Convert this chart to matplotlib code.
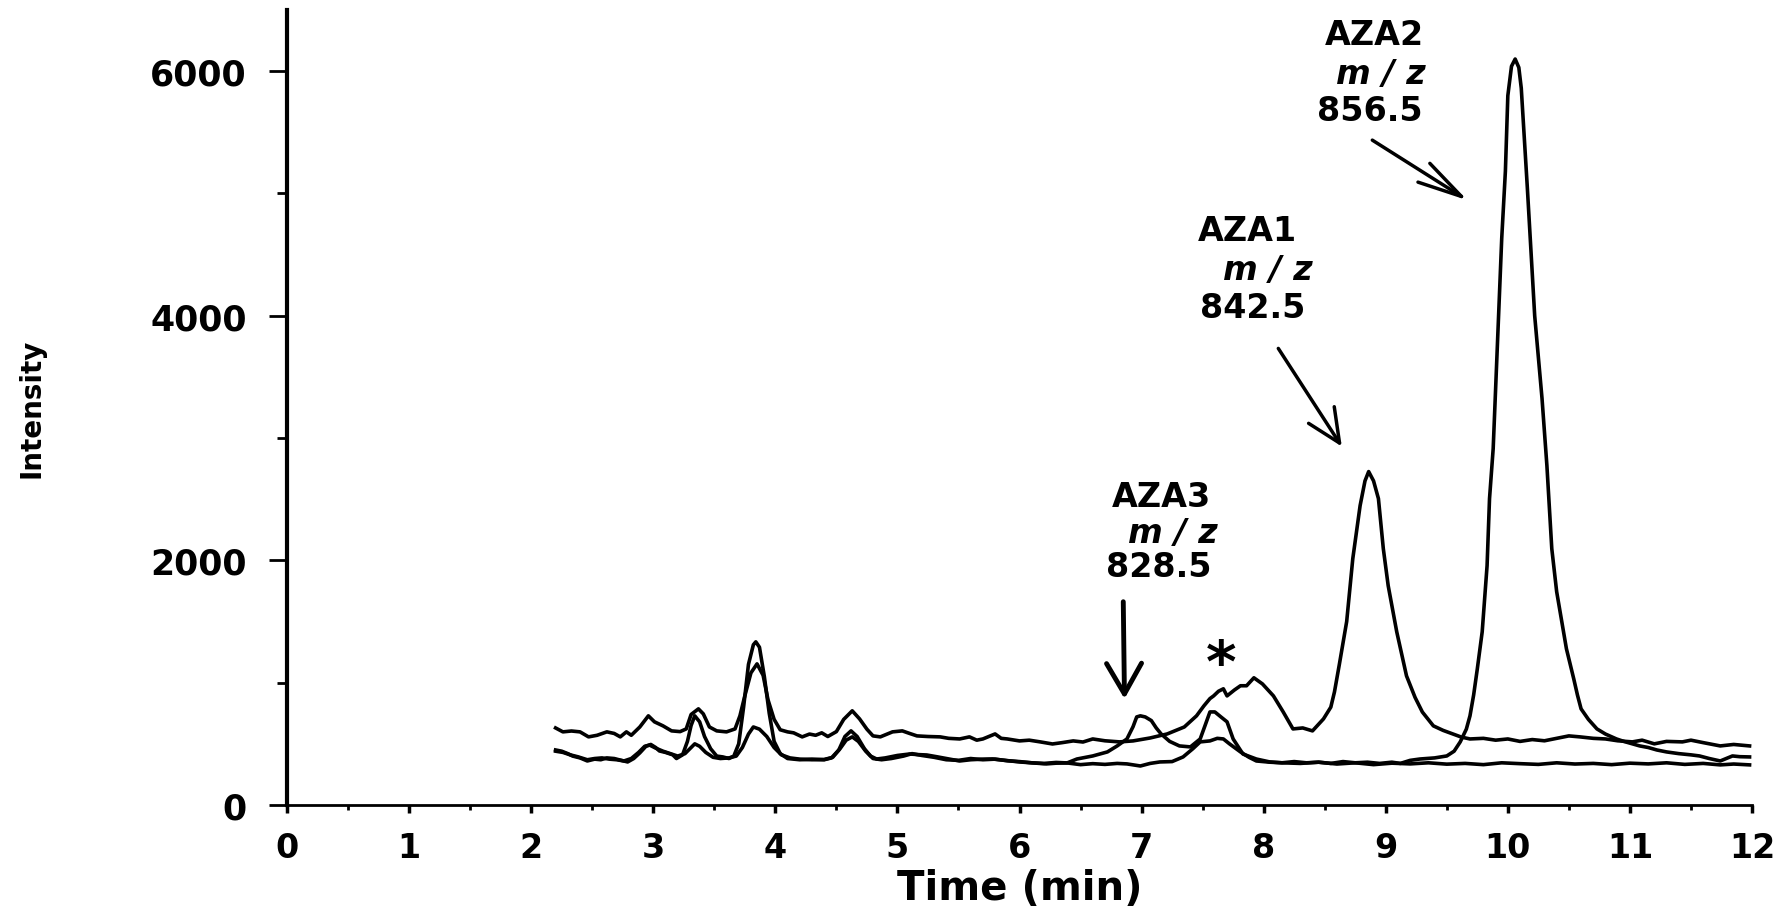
import matplotlib
matplotlib.use("Agg")
import matplotlib.pyplot as plt
from matplotlib.ticker import MultipleLocator

plt.rcParams['font.family'] = ['DejaVu Sans']
plt.rcParams['font.weight'] = 'bold'

# AZA1 trace, m/z 842.5 (upper baseline)
t_842 = [2.20, 2.26, 2.33, 2.40, 2.47, 2.54, 2.62, 2.68, 2.73, 2.78, 2.82, 2.89, 2.96, 3.01,
         3.08, 3.15, 3.22, 3.27, 3.31, 3.37, 3.41, 3.46, 3.52, 3.60, 3.67, 3.71, 3.75, 3.80,
         3.85, 3.90, 3.94, 3.99, 4.04, 4.10, 4.15, 4.22, 4.28, 4.33, 4.38, 4.43, 4.50, 4.56,
         4.63, 4.69, 4.75, 4.80, 4.86, 4.96, 5.04, 5.10, 5.16, 5.25, 5.35, 5.42, 5.51, 5.59,
         5.65, 5.70, 5.80, 5.85, 5.90, 6.00, 6.08, 6.17, 6.27, 6.35, 6.44, 6.52, 6.60, 6.70,
         6.82, 6.93, 7.07, 7.21, 7.35, 7.45, 7.51, 7.56, 7.59, 7.63, 7.67, 7.70, 7.76, 7.81,
         7.86, 7.92, 7.99, 8.08, 8.16, 8.24, 8.32, 8.40, 8.49, 8.55, 8.58, 8.62, 8.68, 8.73,
         8.79, 8.83, 8.86, 8.90, 8.94, 8.98, 9.02, 9.09, 9.17, 9.24, 9.30, 9.39, 9.47, 9.55,
         9.62, 9.69, 9.80, 9.90, 10.00, 10.10, 10.20, 10.30, 10.40, 10.50, 10.59, 10.70, 10.80,
         10.90, 11.02, 11.10, 11.20, 11.30, 11.43, 11.50, 11.60, 11.74, 11.85, 11.98]
i_842 = [630, 598, 605, 598, 557, 570, 598, 585, 557, 598, 570, 638, 729, 680,
         647, 606, 600, 622, 740, 786, 745, 638, 606, 598, 622, 729, 892, 1080,
         1154, 1060, 860, 700, 615, 598, 590, 557, 580, 570, 590, 560, 600, 700,
         770, 704, 620, 565, 557, 598, 606, 585, 565, 560, 557, 545, 540, 557,
         530, 540, 581, 545, 540, 524, 530, 516, 499, 510, 524, 515, 540, 525,
         516, 524, 548, 581, 638, 729, 810, 870, 892, 930, 950, 892, 940, 975,
         975, 1040, 990, 892, 761, 622, 630, 606, 704, 800, 925, 1150, 1500, 2014,
         2448, 2650, 2726, 2650, 2505, 2096, 1793, 1416, 1056, 880, 760, 647, 610, 581,
         555, 540, 545, 530, 540, 520, 535, 525, 545, 565, 557, 545, 540,
         525, 516, 530, 500, 520, 516, 530, 510, 483, 495, 483]

# AZA2 trace, m/z 856.5
t_856 = [2.20, 2.25, 2.30, 2.34, 2.40, 2.46, 2.52, 2.57, 2.62, 2.68, 2.74, 2.79, 2.84, 2.89,
         2.94, 2.98, 3.02, 3.05, 3.10, 3.16, 3.19, 3.24, 3.28, 3.31, 3.34, 3.38, 3.42, 3.47,
         3.52, 3.57, 3.62, 3.66, 3.70, 3.74, 3.78, 3.82, 3.84, 3.87, 3.91, 3.95, 3.99, 4.04,
         4.10, 4.20, 4.30, 4.40, 4.46, 4.52, 4.57, 4.62, 4.67, 4.73, 4.78, 4.83, 4.90, 5.00,
         5.10, 5.17, 5.24, 5.32, 5.40, 5.51, 5.60, 5.70, 5.78, 5.88, 6.00, 6.10, 6.22, 6.30,
         6.39, 6.50, 6.60, 6.70, 6.80, 6.88, 6.99, 7.07, 7.15, 7.25, 7.34, 7.42, 7.48, 7.56,
         7.62, 7.67, 7.72, 7.81, 7.88, 7.94, 8.05, 8.15, 8.25, 8.35, 8.45, 8.55, 8.65, 8.75,
         8.85, 8.95, 9.05, 9.12, 9.20, 9.28, 9.40, 9.50, 9.56, 9.61, 9.66, 9.69, 9.72, 9.75,
         9.79, 9.83, 9.85, 9.88, 9.90, 9.92, 9.95, 9.98, 10.00, 10.03, 10.06, 10.09, 10.11,
         10.16, 10.22, 10.28, 10.32, 10.36, 10.40, 10.48, 10.54, 10.57, 10.60, 10.66, 10.73,
         10.80, 10.89, 10.95, 11.08, 11.15, 11.22, 11.30, 11.40, 11.50, 11.57, 11.65, 11.74,
         11.80, 11.84, 11.90, 11.98]
i_856 = [450, 440, 420, 400, 385, 360, 375, 370, 385, 380, 365, 352, 380, 426,
         480, 495, 470, 442, 430, 410, 380, 410, 520, 650, 729, 680, 560, 460,
         400, 393, 380, 400, 500, 800, 1150, 1310, 1334, 1290, 1050, 750, 520, 420,
         380, 370, 375, 370, 385, 450, 560, 606, 560, 460, 400, 376, 385, 405,
         417, 412, 409, 395, 380, 360, 370, 375, 376, 365, 352, 345, 336, 342,
         344, 330, 338, 332, 340, 336, 319, 340, 352, 355, 393, 460, 516, 524,
         545, 540, 500, 434, 390, 360, 350, 345, 355, 345, 350, 340, 355, 345,
         350, 340, 350, 340, 365, 376, 385, 401, 440, 516, 620, 729, 900, 1113,
         1416, 1957, 2505, 2914, 3400, 3872, 4633, 5182, 5800, 6040, 6099, 6030, 5861,
         5043, 4000, 3324, 2775, 2096, 1744, 1277, 1031, 900, 786, 700, 622,
         580, 540, 520, 483, 470, 450, 434, 420, 410, 401, 380, 360,
         385, 401, 395, 393]

# AZA3 trace, m/z 828.5
t_828 = [2.20, 2.26, 2.32, 2.38, 2.46, 2.52, 2.58, 2.64, 2.70, 2.76, 2.82, 2.88, 2.93, 2.97,
         3.02, 3.08, 3.14, 3.20, 3.26, 3.31, 3.34, 3.38, 3.43, 3.49, 3.55, 3.62, 3.68, 3.73,
         3.78, 3.82, 3.87, 3.93, 3.99, 4.05, 4.12, 4.20, 4.30, 4.40, 4.47, 4.53, 4.58, 4.63,
         4.68, 4.74, 4.80, 4.87, 4.95, 5.05, 5.12, 5.20, 5.30, 5.40, 5.50, 5.60, 5.70, 5.80,
         5.90, 6.00, 6.10, 6.20, 6.30, 6.39, 6.47, 6.60, 6.72, 6.80, 6.88, 6.93, 6.96, 6.99,
         7.03, 7.08, 7.12, 7.16, 7.23, 7.31, 7.40, 7.48, 7.52, 7.56, 7.60, 7.65, 7.70, 7.75,
         7.83, 7.94, 8.05, 8.15, 8.30, 8.45, 8.60, 8.75, 8.90, 9.05, 9.20, 9.35, 9.50, 9.65,
         9.80, 9.95, 10.10, 10.25, 10.40, 10.55, 10.70, 10.85, 11.00, 11.15, 11.30, 11.45,
         11.60, 11.74, 11.85, 11.98]
i_828 = [440, 430, 410, 395, 370, 380, 385, 375, 370, 360, 380, 430, 480, 490,
         465, 440, 420, 400, 420, 470, 500, 480, 430, 390, 380, 385, 400, 470,
         580, 638, 620, 560, 470, 410, 385, 375, 370, 372, 390, 460, 530, 557,
         520, 440, 380, 370, 380, 400, 420, 405, 390, 370, 365, 380, 370, 375,
         362, 355, 345, 340, 348, 344, 376, 401, 434, 483, 540, 640, 720, 729,
         720, 690, 630, 581, 520, 483, 475, 540, 650, 761, 761, 720, 680, 540,
         417, 376, 352, 345, 340, 350, 335, 345, 330, 342, 336, 345, 334, 340,
         330, 345, 338, 332, 345, 335, 340, 330, 342, 336, 345, 332,
         340, 328, 335, 328]

x_ticks = list(range(0, 13))
y_ticks = [0, 2000, 4000, 6000]

fig = plt.figure(figsize=(17.88, 9.12), dpi=100)
ax = fig.add_axes([287 / 1788, 106 / 912, 1465 / 1788, 795 / 912])

for t, y in [(t_842, i_842), (t_856, i_856), (t_828, i_828)]:
    ax.plot(t, y, color='black', lw=2.6, solid_joinstyle='round')

ax.set_xlim(0, 12)
ax.set_ylim(0, 6500)
ax.spines['top'].set_visible(False)
ax.spines['right'].set_visible(False)
ax.spines['left'].set_linewidth(3)
ax.spines['bottom'].set_linewidth(2)

ax.set_xticks(x_ticks)
ax.set_yticks(y_ticks)
ax.xaxis.set_minor_locator(MultipleLocator(0.5))
ax.yaxis.set_minor_locator(MultipleLocator(1000))
ax.tick_params(axis='x', which='major', direction='out', length=6, width=2.5,
               pad=13, labelsize=24)
ax.tick_params(axis='x', which='minor', direction='out', length=3.5, width=2)
ax.tick_params(axis='y', which='major', direction='out', length=13, width=2,
               pad=16, labelsize=25)
ax.tick_params(axis='y', which='minor', direction='out', length=7, width=2)
for lab in ax.get_xticklabels() + ax.get_yticklabels():
    lab.set_fontweight('bold')

ax.set_xlabel('Time (min)', fontsize=29, fontweight='bold', va='center')
ax.xaxis.set_label_coords(0.5, -(889 - 806) / 795)
ax.set_ylabel('Intensity', fontsize=20, fontweight='bold')
ax.yaxis.set_label_coords(-(287 - 45) / 1465, 0.5)

# peak labels
lab_kw = dict(ha='right', va='center', fontsize=24, fontweight='bold')
ax.text(9.31, 6303, 'AZA2', **lab_kw)
ax.text(9.33, 5984, 'm / z', fontstyle='italic', **lab_kw)
ax.text(9.30, 5681, '856.5', **lab_kw)

ax.text(8.27, 4699, 'AZA1', **lab_kw)
ax.text(8.40, 4380, 'm / z', fontstyle='italic', **lab_kw)
ax.text(8.34, 4068, '842.5', **lab_kw)

ax.text(7.57, 2521, 'AZA3', **lab_kw)
ax.text(7.62, 2227, 'm / z', fontstyle='italic', **lab_kw)
ax.text(7.57, 1948, '828.5', **lab_kw)

ax.text(7.65, 1015, '*', ha='center', va='baseline', fontsize=42, fontweight='bold')

ax.annotate('', xy=(9.67, 4944), xytext=(8.89, 5436),
            arrowprops=dict(arrowstyle='->,head_length=3.2,head_width=0.8',
                            lw=2.5, color='black', mutation_scale=10,
                            shrinkA=0, shrinkB=0))
ax.annotate('', xy=(8.64, 2931), xytext=(8.12, 3733),
            arrowprops=dict(arrowstyle='->,head_length=2.4,head_width=1.1',
                            lw=2.5, color='black', mutation_scale=10,
                            shrinkA=0, shrinkB=0))
ax.annotate('', xy=(6.86, 868), xytext=(6.85, 1662),
            arrowprops=dict(arrowstyle='->,head_length=2.2,head_width=1.26',
                            lw=3.5, color='black', mutation_scale=10,
                            shrinkA=0, shrinkB=0))

fig.savefig('out.png', dpi=100)
